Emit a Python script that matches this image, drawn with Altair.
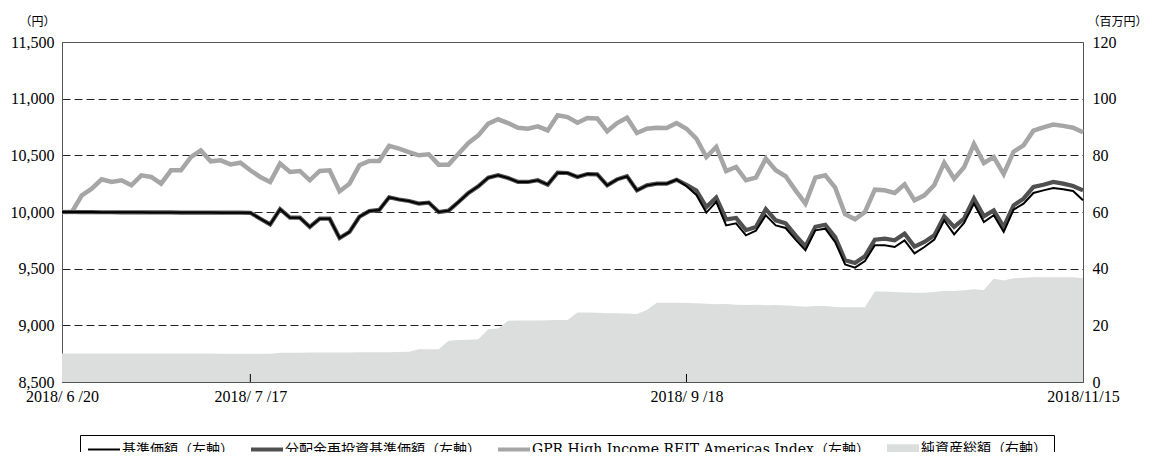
import altair as alt
import pandas as pd

# ---------------- data ----------------
idx = list(range(104))

kijun = [10000, 10000, 9999, 9999, 9998, 9998, 9997, 9998, 9997, 9996,
         9996, 9996, 9995, 9995, 9995, 9995, 9994, 9994, 9994, 9993,
         9941, 9891, 10025, 9950, 9950, 9868, 9941, 9941, 9770, 9824,
         9958, 10008, 10018, 10130, 10110, 10097, 10074, 10083, 10000, 10012,
         10088, 10168, 10227, 10303, 10324, 10300, 10265, 10265, 10280, 10242,
         10347, 10344, 10309, 10335, 10332, 10235, 10288, 10315, 10191, 10235,
         10250, 10250, 10285, 10228, 10150, 9995, 10090, 9882, 9900, 9794,
         9835, 9971, 9882, 9859, 9756, 9662, 9838, 9853, 9735, 9538,
         9509, 9568, 9706, 9706, 9691, 9750, 9635, 9691, 9756, 9926,
         9803, 9903, 10074, 9912, 9971, 9824, 10021, 10074, 10168, 10191,
         10212, 10200, 10185, 10103]

bunpai = [10000, 10000, 9999, 9999, 9998, 9998, 9997, 9998, 9997, 9996,
          9996, 9996, 9995, 9995, 9995, 9995, 9994, 9994, 9994, 9993,
          9941, 9891, 10025, 9950, 9950, 9868, 9941, 9941, 9770, 9824,
          9958, 10008, 10018, 10130, 10110, 10097, 10074, 10083, 10000, 10012,
          10088, 10168, 10227, 10303, 10324, 10300, 10265, 10265, 10280, 10242,
          10347, 10344, 10309, 10335, 10332, 10235, 10288, 10315, 10191, 10235,
          10250, 10250, 10285, 10240, 10190, 10044, 10127, 9935, 9948, 9840,
          9868, 10025, 9926, 9900, 9794, 9697, 9870, 9888, 9779, 9574,
          9550, 9609, 9756, 9765, 9750, 9809, 9695, 9735, 9794, 9962,
          9868, 9941, 10118, 9962, 10015, 9868, 10059, 10118, 10221, 10241,
          10265, 10250, 10229, 10191]

gpr = [10000, 10000, 10147, 10206, 10288, 10265, 10280, 10235, 10323, 10309,
       10250, 10368, 10368, 10485, 10544, 10447, 10456, 10420, 10435, 10368,
       10309, 10265, 10427, 10353, 10362, 10280, 10362, 10368, 10183, 10250,
       10412, 10450, 10450, 10583, 10559, 10529, 10500, 10509, 10418, 10418,
       10515, 10609, 10676, 10780, 10818, 10785, 10744, 10735, 10756, 10720,
       10853, 10838, 10788, 10829, 10826, 10712, 10785, 10832, 10697, 10735,
       10744, 10741, 10785, 10735, 10647, 10485, 10574, 10362, 10397, 10280,
       10303, 10471, 10368, 10315, 10191, 10074, 10303, 10324, 10215, 9980,
       9935, 10000, 10197, 10191, 10168, 10244, 10103, 10147, 10238, 10435,
       10294, 10394, 10600, 10432, 10485, 10335, 10532, 10588, 10717, 10747,
       10772, 10760, 10744, 10703]

nav = [10.1, 10.1, 10.1, 10.1, 10.1, 10.1, 10.1, 10.1, 10.1, 10.1,
       10.1, 10.1, 10.1, 10.1, 10.1, 10.1, 10.0, 10.0, 10.0, 10.0,
       10.0, 10.0, 10.3, 10.3, 10.3, 10.4, 10.4, 10.4, 10.4, 10.4,
       10.5, 10.5, 10.5, 10.5, 10.6, 10.7, 11.6, 11.6, 11.6, 14.6,
       14.8, 14.9, 15.1, 18.6, 18.9, 21.6, 21.7, 21.7, 21.7, 21.8,
       21.9, 21.9, 24.5, 24.5, 24.4, 24.3, 24.3, 24.2, 24.0, 25.4,
       28.0, 28.0, 28.0, 27.9, 27.8, 27.6, 27.4, 27.5, 27.3, 27.2,
       27.3, 27.1, 27.2, 27.0, 26.8, 26.6, 26.8, 26.8, 26.5, 26.4,
       26.4, 26.4, 31.9, 31.9, 31.8, 31.6, 31.5, 31.5, 31.8, 32.2,
       32.1, 32.4, 32.7, 32.5, 36.4, 35.8, 36.6, 36.8, 37.0, 37.0,
       37.0, 37.0, 37.0, 36.6]

series_names = ["基準価額（左軸）", "分配金再投資基準価額（左軸）",
                "GPR High Income REIT Americas Index（左軸）", "純資産総額（右軸）"]
series_colors = ["#000000", "#505050", "#a6a6a6", "#dcdddd"]
# legend symbol shapes: stacked 2px strokes give the symbol thickness
legend_shapes = [
    "M-16,0L16,0",
    "M-16,-1L16,-1M-16,0L16,0M-16,1L16,1",
    "M-16,-1L16,-1M-16,0L16,0M-16,1L16,1",
    "M-16,-3.8L16,-3.8M-16,-1.9L16,-1.9M-16,0L16,0M-16,1.9L16,1.9M-16,3.8L16,3.8",
]

left_ticks = [8500, 9000, 9500, 10000, 10500, 11000, 11500]
right_ticks = [0, 20, 40, 60, 80, 100, 120]
x_tick_idx = [0, 19, 63, 103]
x_tick_labels = ["2018/ 6 /20", "2018/ 7 /17", "2018/ 9 /18", "2018/11/15"]
inner_tick_idx = [19, 63]

# ---------------- tables ----------------
rows = []
for name, vals in zip(series_names[:3], [kijun, bunpai, gpr]):
    for i, v in zip(idx, vals):
        rows.append({"i": i, "v": v, "s": name})
lines_df = pd.DataFrame(rows)
nav_df = pd.DataFrame({"i": idx, "n": nav})
ticks_df = pd.DataFrame({"i": inner_tick_idx})

label_expr = "".join(
    f"datum.value == {i} ? '{lab}' : " for i, lab in zip(x_tick_idx, x_tick_labels)
) + "''"

shape_expr = "(" + "".join(
    f"datum.value === '{n}' ? '{p}' : " for n, p in zip(series_names, legend_shapes)
) + f"'{legend_shapes[0]}')"
col_expr = "(" + "".join(
    f"datum.value === '{n}' ? '{c}' : " for n, c in zip(series_names, series_colors)
) + "'#000')"

xscale = alt.Scale(domain=[0, 103], nice=False, zero=False)
xaxis = alt.Axis(values=x_tick_idx, labelExpr=label_expr, ticks=False, grid=False,
                 labelPadding=6, title=None, labelAlign="center")

color_scale = alt.Scale(domain=series_names, range=series_colors)
legend = alt.Legend(
    orient="none", legendX=18, legendY=393, direction="horizontal", columns=4,
    title=None, strokeColor="#000", padding=7,
    symbolType={"expr": shape_expr}, symbolSize=4, symbolOffset=10,
    labelFont="DejaVu Serif, Noto Sans CJK JP", labelFontSize=14, labelColor="#000",
    labelLimit=700, columnPadding=13, labelOffset=11,
    symbolStrokeWidth=2,
    symbolStrokeColor={"expr": col_expr},
    symbolFillColor="transparent",
    symbolOpacity=1,
)

left_axis = alt.Axis(
    orient="left", values=left_ticks, labelExpr="format(datum.value, ',')",
    grid=True, gridDash=[8, 4], gridColor="#222", gridWidth=1,
    gridOpacity={"condition": {"test": "datum.value <= 8500 || datum.value >= 11500", "value": 0}, "value": 1},
    labelPadding=8, title="（円）", titleAngle=0, titleX=-25, titleY=-17,
    titleAlign="center", titleBaseline="alphabetic")
right_axis = alt.Axis(
    orient="right", values=right_ticks, grid=False, labelPadding=9,
    title="（百万円）", titleAngle=0, titleX=4, titleY=-17,
    titleAlign="left", titleBaseline="alphabetic")

left_scale = alt.Scale(domain=[8500, 11500], nice=False, zero=False)

area = alt.Chart(nav_df).mark_area(interpolate="linear", color=series_colors[3]).encode(
    x=alt.X("i:Q", scale=xscale, axis=xaxis),
    y=alt.Y("n:Q", scale=alt.Scale(domain=[0, 120], nice=False), axis=right_axis),
)


def line(name, width):
    return alt.Chart(lines_df).transform_filter(alt.datum.s == name).mark_line(
        strokeWidth=width, strokeJoin="miter").encode(
        x=alt.X("i:Q", scale=xscale, axis=xaxis),
        y=alt.Y("v:Q", scale=left_scale, axis=left_axis),
        color=alt.Color("s:N", scale=color_scale, legend=legend),
    )


ticks = alt.Chart(ticks_df).mark_rule(color="#000", strokeWidth=1).encode(
    x=alt.X("i:Q", scale=xscale, axis=xaxis),
    y=alt.value(332), y2=alt.value(340),
)

left_group = alt.layer(line(series_names[2], 4.5), line(series_names[1], 4.2),
                       line(series_names[0], 2), ticks)

chart = alt.layer(area, left_group).resolve_scale(y="independent").properties(
    width=1021, height=340,
    autosize=alt.AutoSizeParams(type="none"),
    padding={"left": 54, "top": 34, "right": 63, "bottom": 70},
).configure_view(stroke="#555", strokeWidth=1).configure_axis(
    labelFont="Liberation Serif", labelFontSize=16, labelColor="#000",
    titleFont="Liberation Serif, Noto Sans CJK JP", titleFontSize=12,
    titleFontWeight="normal", titleColor="#000",
    domainColor="#555", domainWidth=1, ticks=False,
)

chart.save("out.html", embed_options={"renderer": "svg", "actions": False})
